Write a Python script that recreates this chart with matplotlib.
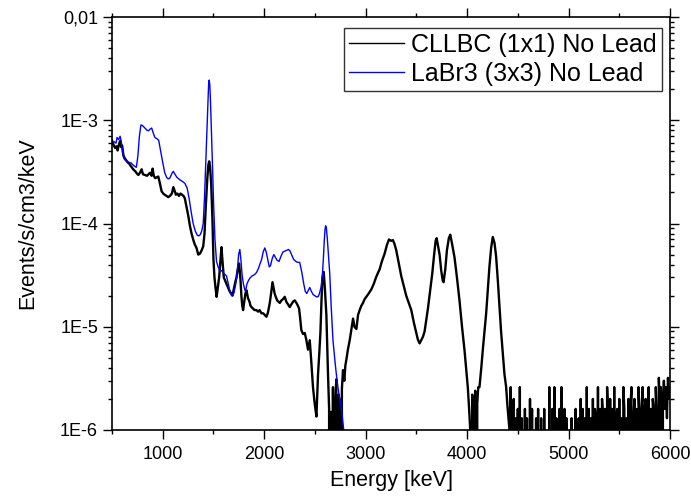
import numpy as np
import matplotlib
matplotlib.use('Agg')
import matplotlib.pyplot as plt
from matplotlib.lines import Line2D
from matplotlib.ticker import LogLocator, NullFormatter, MultipleLocator

plt.rcParams['font.family'] = ['Liberation Sans', 'DejaVu Sans']

# CLLBC (1x1) - спектр, точки
cllbc_e = [500, 515, 530, 545, 555, 570, 580, 590, 600, 612, 625, 640, 655, 670, 685,
           700, 715, 730, 745, 760, 775, 792, 805, 825, 845, 860, 875, 890, 900, 912,
           925, 940, 956, 970, 989, 1005, 1020, 1038, 1055, 1071, 1090, 1105, 1115, 1130,
           1145, 1160, 1175, 1190, 1205, 1218, 1235, 1251, 1268, 1284, 1300, 1315, 1333,
           1350, 1366, 1380, 1399, 1412, 1425, 1440, 1450, 1458, 1466, 1478, 1490, 1500,
           1510, 1520, 1531, 1545, 1556, 1570, 1579, 1590, 1602, 1615, 1630, 1645, 1660,
           1675, 1688, 1700, 1715, 1727, 1740, 1753, 1765, 1776, 1784, 1792, 1805, 1815,
           1826, 1840, 1855, 1865, 1875, 1890, 1905, 1924, 1940, 1955, 1973, 1990, 2005,
           2022, 2035, 2045, 2055, 2068, 2082, 2092, 2103, 2114, 2128, 2140, 2154, 2170,
           2185, 2203, 2218, 2235, 2252, 2268, 2285, 2301, 2318, 2332, 2344, 2355, 2366,
           2383, 2400, 2415, 2432, 2449, 2465, 2481, 2498, 2515, 2523, 2531, 2543, 2554,
           2565, 2574, 2587, 2600, 2613, 2622, 2629, 2640, 2650, 2660, 2668, 2678, 2690,
           2700, 2711, 2722, 2733, 2745, 2755, 2766, 2777, 2790, 2800, 2810, 2825, 2843,
           2860, 2876, 2890, 2909, 2925, 2941, 2958, 2974, 2990, 3007, 3030, 3056, 3080,
           3105, 3120, 3138, 3160, 3187, 3210, 3230, 3250, 3269, 3285, 3302, 3325, 3351,
           3375, 3400, 3425, 3450, 3475, 3499, 3515, 3532, 3550, 3565, 3581, 3600, 3614,
           3635, 3657, 3675, 3690, 3700, 3712, 3729, 3745, 3760, 3768, 3785, 3801, 3820,
           3834, 3850, 3876, 3900, 3925, 3950, 3974, 3990, 4007, 4020, 4031, 4040, 4050,
           4060, 4070, 4080, 4090, 4100, 4110, 4122, 4140, 4155, 4172, 4188, 4205, 4220,
           4237, 4253, 4270, 4286, 4303, 4319, 4335, 4352, 4368, 4385, 4400, 4418]
cllbc_v = [6.4e-4, 5.8e-4, 5.4e-4, 5.6e-4, 5.1e-4, 5.9e-4, 6.3e-4, 5.5e-4, 5.7e-4, 4.6e-4,
           4.3e-4, 4.1e-4, 3.9e-4, 3.8e-4, 3.6e-4, 3.45e-4, 3.3e-4, 3.2e-4, 3.05e-4, 2.95e-4,
           3.1e-4, 3.35e-4, 3.0e-4, 2.95e-4, 2.9e-4, 3.0e-4, 3.1e-4, 2.9e-4, 3.4e-4, 2.9e-4,
           2.75e-4, 2.8e-4, 2.85e-4, 2.5e-4, 2.05e-4, 1.95e-4, 1.9e-4, 1.85e-4, 1.8e-4, 1.85e-4,
           1.95e-4, 2.25e-4, 2.1e-4, 1.9e-4, 1.95e-4, 1.85e-4, 1.95e-4, 1.9e-4, 1.85e-4, 1.75e-4,
           1.45e-4, 1.2e-4, 9.5e-5, 8.0e-5, 7.0e-5, 6.3e-5, 5.8e-5, 5.0e-5, 5.1e-5, 5.4e-5,
           6.0e-5, 8.0e-5, 1.5e-4, 2.8e-4, 3.7e-4, 4.0e-4, 3.6e-4, 2.4e-4, 1.1e-4, 4.5e-5,
           3.0e-5, 2.4e-5, 1.95e-5, 2.5e-5, 3.0e-5, 4.6e-5, 5.9e-5, 4.2e-5, 3.0e-5, 2.8e-5,
           2.6e-5, 2.4e-5, 2.2e-5, 2.1e-5, 2.0e-5, 2.3e-5, 2.7e-5, 3.0e-5, 3.6e-5, 4.1e-5,
           3.0e-5, 1.95e-5, 1.6e-5, 1.45e-5, 1.8e-5, 2.1e-5, 2.25e-5, 1.9e-5, 1.75e-5, 1.6e-5,
           1.55e-5, 1.5e-5, 1.45e-5, 1.45e-5, 1.4e-5, 1.45e-5, 1.35e-5, 1.35e-5, 1.3e-5, 1.25e-5,
           1.35e-5, 1.5e-5, 1.7e-5, 2.1e-5, 2.7e-5, 2.4e-5, 2.1e-5, 1.95e-5, 1.8e-5, 1.75e-5,
           1.7e-5, 1.8e-5, 1.85e-5, 1.95e-5, 1.75e-5, 1.65e-5, 1.55e-5, 1.65e-5, 1.75e-5, 1.8e-5,
           1.7e-5, 1.6e-5, 1.5e-5, 1.2e-5, 9.3e-6, 8.5e-6, 8.7e-6, 7.5e-6, 6.0e-6, 7.4e-6,
           4.5e-6, 2.6e-6, 1.8e-6, 1.35e-6, 2.2e-6, 3.5e-6, 5.5e-6, 8.7e-6, 1.8e-5, 3.0e-5,
           3.4e-5, 2.2e-5, 1.3e-5, 6.0e-6, 3.5e-6, 1.6e-6, 0, 1.5e-6, 0, 2.6e-6,
           0, 1.8e-6, 3.1e-6, 0, 2.2e-6, 1.9e-6, 0, 2.5e-6, 3.8e-6, 3.0e-6,
           4.2e-6, 4.8e-6, 6.0e-6, 7.4e-6, 9.5e-6, 1.2e-5, 1.0e-5, 9.5e-6, 1.3e-5, 1.45e-5,
           1.6e-5, 1.7e-5, 1.85e-5, 1.95e-5, 2.1e-5, 2.3e-5, 2.6e-5, 3.05e-5, 3.3e-5, 3.6e-5,
           4.3e-5, 5.1e-5, 6.2e-5, 7.0e-5, 6.8e-5, 6.9e-5, 6.3e-5, 5.5e-5, 4.2e-5, 3.1e-5,
           2.5e-5, 2.0e-5, 1.7e-5, 1.45e-5, 1.1e-5, 8.7e-6, 7.5e-6, 6.9e-6, 7.5e-6, 8.0e-6,
           9.0e-6, 1.2e-5, 1.5e-5, 2.2e-5, 3.3e-5, 5.0e-5, 6.8e-5, 7.2e-5, 6.2e-5, 5.0e-5,
           3.5e-5, 2.8e-5, 2.7e-5, 3.6e-5, 5.5e-5, 7.2e-5, 7.8e-5, 6.5e-5, 4.7e-5, 3.0e-5,
           1.8e-5, 1.0e-5, 6.0e-6, 4.0e-6, 2.6e-6, 1.6e-6, 1.0e-6, 0, 2.2e-6, 0,
           1.6e-6, 2.4e-6, 0, 1.8e-6, 2.6e-6, 2.6e-6, 4.0e-6, 6.0e-6, 9.0e-6, 1.35e-5,
           2.3e-5, 3.8e-5, 5.8e-5, 7.4e-5, 6.5e-5, 4.8e-5, 2.8e-5, 1.6e-5, 9.0e-6, 5.5e-6,
           3.5e-6, 2.6e-6, 1.6e-6, 1.0e-6]

# хвост CLLBC выше 4400 кэВ: каналы через 10 кэВ, отдельные отсчёты
tail_e = np.arange(4430, 6001, 10)
tail_v = [2.6e-6, 0, 1.6e-6, 2.0e-6, 0, 1.3e-6, 0, 1.6e-6, 0, 2.6e-6,
          0, 1.3e-6, 0, 0, 1.6e-6, 0, 1.3e-6, 0, 0, 2.0e-6,
          0, 1.6e-6, 0, 0, 0, 1.3e-6, 0, 1.6e-6, 0, 0,
          1.3e-6, 0, 0, 1.6e-6, 0, 0, 0, 0, 2.6e-6, 0,
          0, 1.6e-6, 0, 2.6e-6, 0, 1.3e-6, 0, 0, 1.6e-6, 0,
          2.6e-6, 0, 0, 1.6e-6, 0, 1.3e-6, 0, 0, 0, 0,
          1.3e-6, 0, 0, 0, 1.6e-6, 0, 0, 1.3e-6, 0, 2.0e-6,
          0, 1.6e-6, 0, 1.3e-6, 0, 2.6e-6, 0, 1.6e-6, 0, 1.3e-6,
          0, 2.0e-6, 0, 1.6e-6, 1.3e-6, 0, 2.6e-6, 0, 1.6e-6, 0,
          2.0e-6, 1.3e-6, 0, 1.6e-6, 0, 2.6e-6, 1.3e-6, 0, 2.0e-6, 0,
          1.6e-6, 0, 2.6e-6, 0, 1.3e-6, 1.6e-6, 0, 2.0e-6, 0, 1.3e-6,
          0, 2.6e-6, 1.6e-6, 0, 1.3e-6, 0, 2.0e-6, 0, 1.6e-6, 2.6e-6,
          0, 1.3e-6, 2.0e-6, 0, 1.6e-6, 0, 2.6e-6, 1.3e-6, 0, 1.6e-6,
          2.6e-6, 0, 1.6e-6, 2.0e-6, 0, 1.3e-6, 2.6e-6, 0, 1.6e-6, 0,
          2.0e-6, 1.6e-6, 0, 2.6e-6, 1.3e-6, 0, 3.2e-6, 1.6e-6, 2.6e-6, 0,
          2.0e-6, 3.0e-6, 1.6e-6, 2.6e-6, 1.3e-6, 3.2e-6, 2.0e-6, 2.6e-6]

# LaBr3 (3x3)
labr_e = [500, 520, 540, 550, 565, 580, 592, 605, 615, 630, 650, 670, 690, 705, 720, 740,
          755, 770, 785, 800, 820, 845, 860, 875, 891, 905, 923, 945, 960, 980, 1000, 1020,
          1038, 1054, 1070, 1090, 1104, 1120, 1140, 1169, 1195, 1218, 1241, 1260, 1280,
          1300, 1320, 1340, 1356, 1370, 1385, 1399, 1412, 1425, 1435, 1445, 1452, 1458,
          1464, 1471, 1481, 1491, 1502, 1515, 1530, 1546, 1562, 1579, 1600, 1629, 1650,
          1667, 1680, 1700, 1720, 1735, 1748, 1760, 1770, 1782, 1795, 1808, 1816, 1830,
          1845, 1858, 1880, 1905, 1924, 1945, 1960, 1975, 1990, 2006, 2020, 2035, 2050,
          2062, 2080, 2095, 2110, 2128, 2147, 2165, 2185, 2203, 2220, 2240, 2255, 2270,
          2290, 2311, 2330, 2350, 2370, 2390, 2405, 2420, 2435, 2449, 2465, 2482, 2498,
          2515, 2531, 2545, 2560, 2572, 2583, 2593, 2600, 2606, 2613, 2622, 2633, 2646,
          2660, 2678, 2700, 2720, 2744, 2765, 2784, 2800]
labr_v = [5.9e-4, 6.2e-4, 6.0e-4, 6.8e-4, 6.5e-4, 7.0e-4, 6.2e-4, 4.8e-4, 4.3e-4, 4.1e-4,
          4.0e-4, 3.9e-4, 3.85e-4, 3.7e-4, 3.6e-4, 3.5e-4, 4.5e-4, 7.0e-4, 9.0e-4, 8.9e-4,
          8.5e-4, 8.0e-4, 7.9e-4, 8.2e-4, 8.4e-4, 7.6e-4, 6.8e-4, 6.6e-4, 6.4e-4, 5.0e-4,
          3.9e-4, 3.1e-4, 2.8e-4, 2.7e-4, 2.75e-4, 3.05e-4, 3.2e-4, 3.0e-4, 2.8e-4, 2.65e-4,
          2.55e-4, 2.45e-4, 2.2e-4, 1.75e-4, 1.3e-4, 1.0e-4, 8.5e-5, 7.7e-5, 7.6e-5, 7.8e-5,
          8.5e-5, 1.0e-4, 1.8e-4, 4.1e-4, 8.0e-4, 1.5e-3, 2.2e-3, 2.45e-3, 2.2e-3, 1.5e-3,
          7.5e-4, 3.5e-4, 1.5e-4, 7.0e-5, 4.3e-5, 3.8e-5, 3.5e-5, 3.5e-5, 3.3e-5, 3.1e-5,
          2.5e-5, 2.1e-5, 2.0e-5, 2.1e-5, 2.6e-5, 3.5e-5, 5.0e-5, 5.6e-5, 4.5e-5, 3.2e-5,
          2.6e-5, 2.3e-5, 2.2e-5, 2.6e-5, 2.8e-5, 2.95e-5, 3.1e-5, 3.2e-5, 3.35e-5, 3.7e-5,
          4.1e-5, 4.5e-5, 5.3e-5, 5.8e-5, 5.3e-5, 4.5e-5, 3.8e-5, 3.9e-5, 4.6e-5, 5.0e-5,
          4.7e-5, 4.4e-5, 4.3e-5, 4.8e-5, 5.3e-5, 5.4e-5, 5.5e-5, 5.6e-5, 5.4e-5, 5.0e-5,
          4.5e-5, 4.3e-5, 4.2e-5, 4.2e-5, 3.4e-5, 2.6e-5, 2.2e-5, 2.1e-5, 2.25e-5, 2.4e-5,
          2.2e-5, 2.05e-5, 2.0e-5, 1.95e-5, 1.95e-5, 2.1e-5, 2.4e-5, 3.0e-5, 4.5e-5, 7.0e-5,
          8.8e-5, 9.5e-5, 9.0e-5, 7.2e-5, 5.0e-5, 3.3e-5, 1.6e-5, 7.4e-6, 4.4e-6, 2.9e-6,
          2.0e-6, 1.5e-6, 1.0e-6, 0]

fig = plt.figure(figsize=(6.91, 4.96), dpi=100)
ax = fig.add_axes([112 / 691, 1 - 430 / 496, 558 / 691, 413 / 496])

ax.set_yscale('log', nonpositive='clip')
ax.plot(np.concatenate([cllbc_e, tail_e]), np.concatenate([cllbc_v, tail_v]),
        color='black', lw=1.7)
ax.plot(labr_e, labr_v, color='#0000ff', lw=1.0)

ax.set_xlim(500, 6000)
ax.set_ylim(1e-6, 1e-2)

ax.set_xticks([1000, 2000, 3000, 4000, 5000, 6000])
ax.set_xticklabels(['1000', '2000', '3000', '4000', '5000', '6000'])
ax.xaxis.set_minor_locator(MultipleLocator(500))
ax.set_yticks([1e-6, 1e-5, 1e-4, 1e-3, 1e-2])
ax.set_yticklabels(['1E-6', '1E-5', '1E-4', '1E-3', '0,01'])
ax.yaxis.set_minor_locator(LogLocator(base=10, subs=np.arange(2, 10)))
ax.yaxis.set_minor_formatter(NullFormatter())

ax.tick_params(which='both', direction='out', top=True, right=True,
               labelsize=13, width=1.0)
ax.tick_params(which='major', length=6.5)
ax.tick_params(which='minor', length=3)
ax.tick_params(axis='x', pad=5)
for s in ax.spines.values():
    s.set_linewidth(1.2)

ax.set_xlabel('Energy [keV]', fontsize=15.5, labelpad=5)
ax.set_ylabel('Events/s/cm3/keV', fontsize=15.5, labelpad=16)

handles = [Line2D([], [], color='black', lw=1.0),
           Line2D([], [], color='#0000ff', lw=1.0)]
leg = ax.legend(handles, ['CLLBC (1x1) No Lead', 'LaBr3 (3x3) No Lead'],
                loc='upper right', bbox_to_anchor=(550 / 558, 402 / 413),
                borderaxespad=0, fontsize=18, fancybox=False, framealpha=1,
                edgecolor='#333333', handlelength=2.2, handletextpad=0.3,
                labelspacing=0.2, borderpad=0.2)
leg.get_frame().set_linewidth(1.0)

fig.savefig('out.png', dpi=100)
